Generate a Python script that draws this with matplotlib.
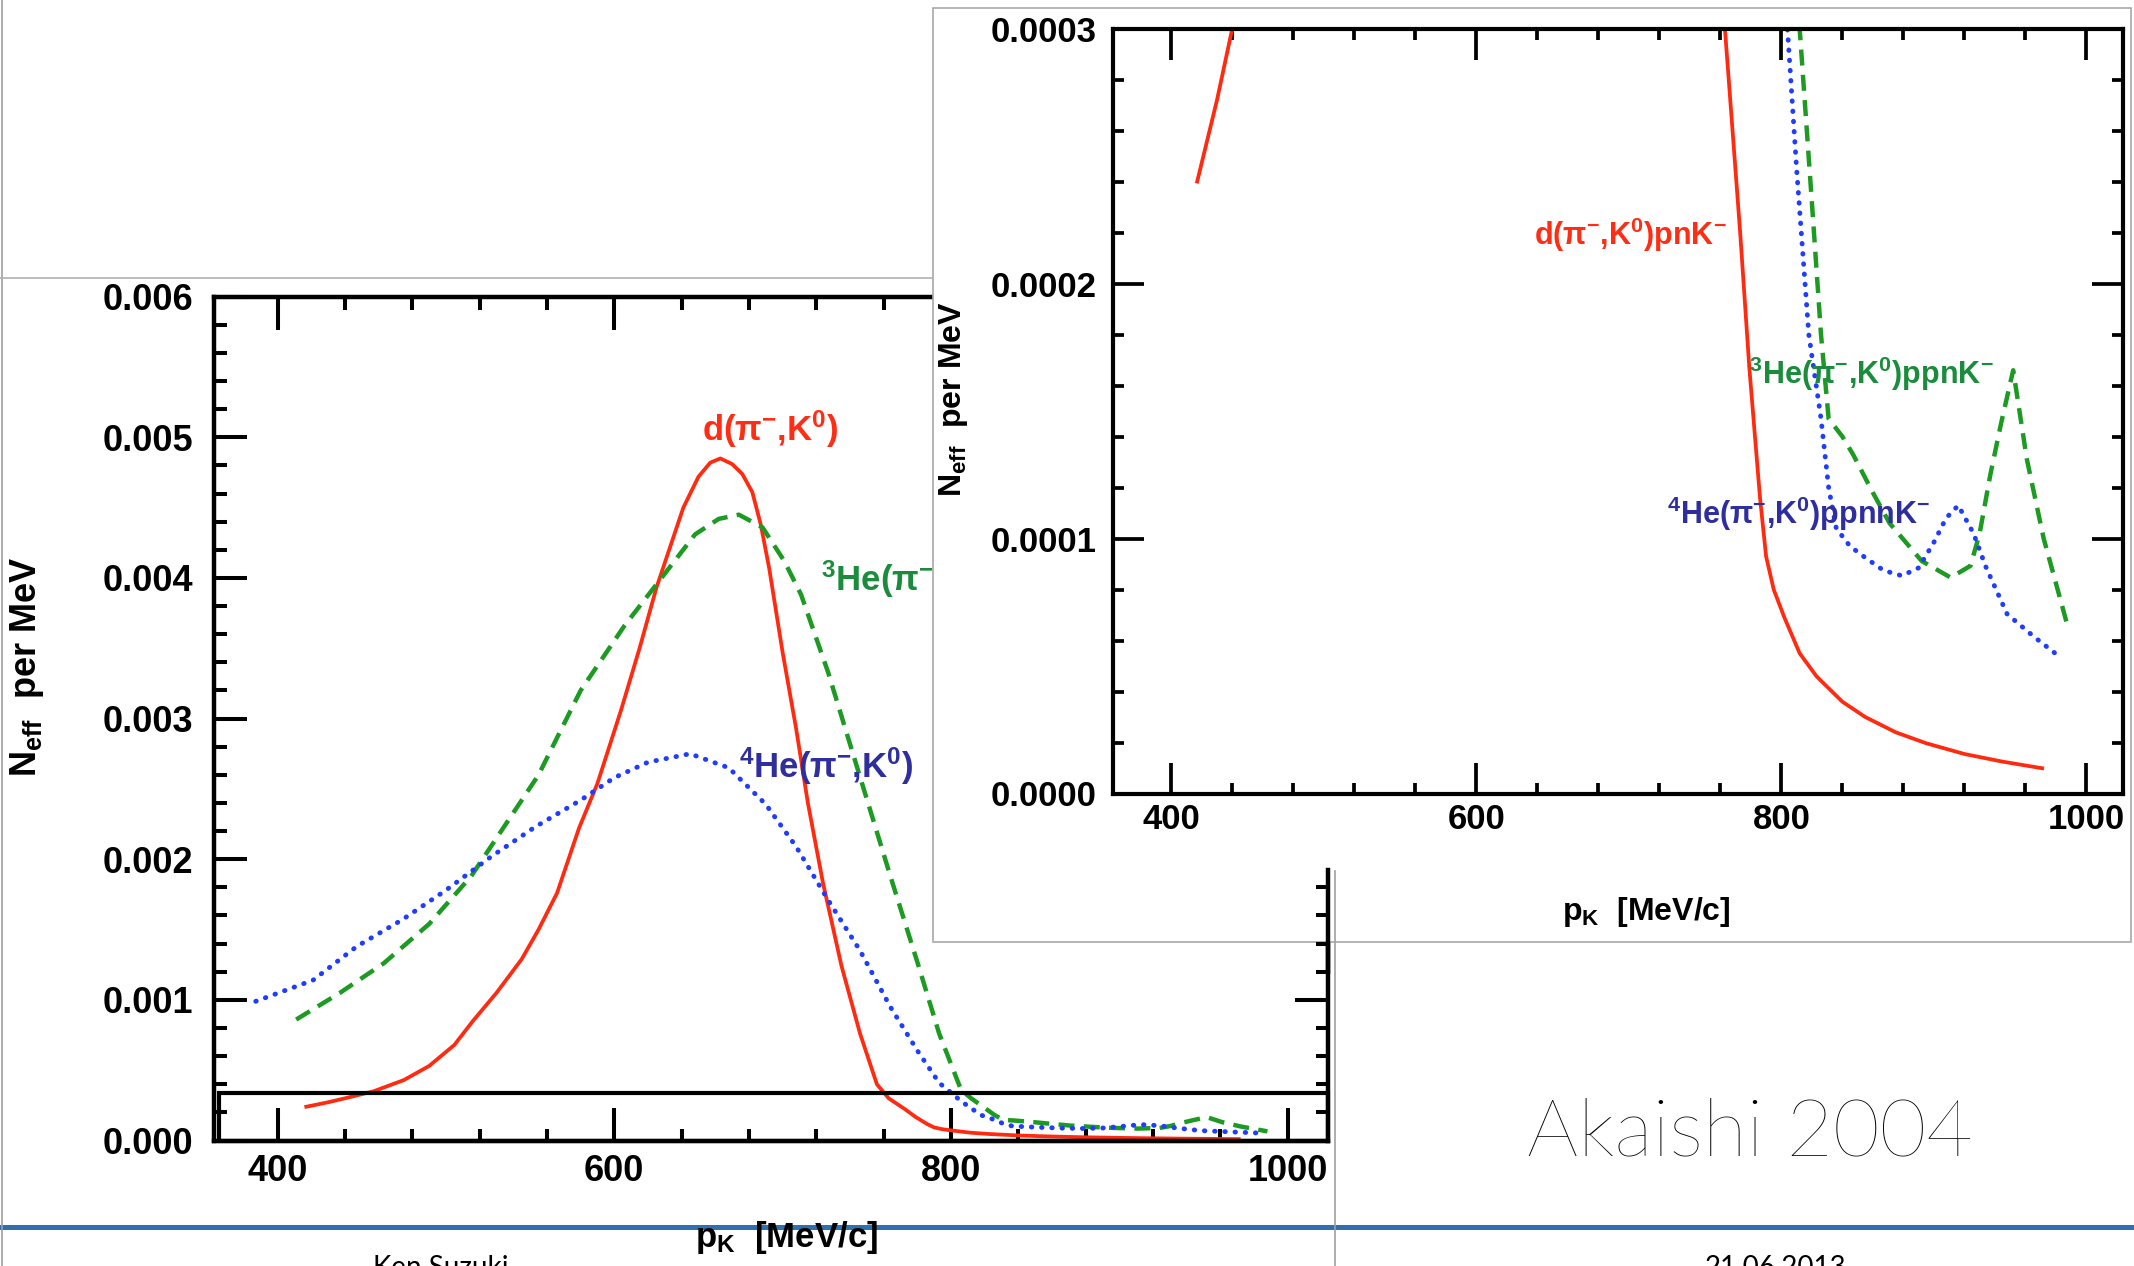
import matplotlib
matplotlib.use('Agg')
import matplotlib.pyplot as plt
from matplotlib.lines import Line2D
from matplotlib.patches import Rectangle
from matplotlib.ticker import MultipleLocator, FixedLocator, FormatStrFormatter

W, H = 2134, 1266

# kaon momentum p_K [MeV/c] vs N_eff per MeV
RED_X = [417, 430, 440, 457, 475, 490, 505, 516, 530, 545, 555, 566, 579, 590,
         604, 615, 625, 641, 650, 657, 663, 670, 676, 682, 687, 692, 700, 708,
         715, 724, 735, 746, 756, 763, 773, 779, 786, 790, 795, 802, 812, 823,
         840, 855, 875, 895, 920, 945, 971]
RED_Y = [0.00024, 0.000272, 0.0003, 0.00035, 0.00043, 0.00053, 0.00068, 0.00085,
         0.00105, 0.00129, 0.0015, 0.00176, 0.00222, 0.00254, 0.00306, 0.0035,
         0.00393, 0.0045, 0.00472, 0.00482, 0.00485, 0.00481, 0.00474, 0.00461,
         0.00438, 0.00407, 0.00347, 0.00293, 0.0024, 0.00183, 0.00124, 0.00076,
         0.0004, 0.0003, 0.00022, 0.000167, 0.000116, 0.000093, 0.00008, 0.000069,
         0.000055, 0.000046, 0.000036, 0.00003, 0.000024, 0.0000197, 0.0000155,
         0.0000125, 0.0000099]

HE3_X = [411, 437, 463, 490, 515, 545, 555, 580, 606, 628, 648, 662, 674, 688,
         701, 711, 727, 740, 752, 764, 780, 793, 806, 812, 820, 826, 831, 840,
         847, 860, 871, 892, 911, 924, 930, 937, 944, 952, 961, 972, 988]
HE3_Y = [0.00086, 0.00105, 0.00126, 0.00154, 0.00188, 0.00242, 0.0026, 0.0032,
         0.00366, 0.004, 0.00431, 0.00442, 0.00445, 0.00436, 0.00412, 0.00388,
         0.00333, 0.00282, 0.00235, 0.00188, 0.00127, 0.00076, 0.00036, 0.0003,
         0.000232, 0.00018, 0.000147, 0.00014, 0.000133, 0.000118, 0.000106,
         0.0000912, 0.0000847, 0.0000893, 0.000102, 0.000125, 0.000145, 0.000166,
         0.000131, 0.0001, 0.000065]

HE4_X = [387, 421, 447, 474, 500, 527, 553, 580, 600, 620, 645, 668, 690, 708,
         727, 746, 764, 780, 793, 804, 810, 818, 826, 831, 836, 845, 855, 867,
         879, 890, 900, 908, 916, 926, 934, 948, 966, 984]
HE4_Y = [0.00099, 0.00114, 0.00138, 0.00157, 0.00178, 0.00202, 0.00223, 0.00242,
         0.00258, 0.00269, 0.00275, 0.00265, 0.00239, 0.00209, 0.00171, 0.00135,
         0.00095, 0.00064, 0.00041, 0.0003, 0.000245, 0.00018, 0.000147, 0.00012,
         0.000104, 0.000097, 0.0000925, 0.0000875, 0.0000854, 0.0000885,
         0.0000985, 0.000108, 0.000113, 0.000102, 0.000089, 0.0000704, 0.0000613,
         0.0000529]

XLIM = (362, 1024)
ZOOM_BOX = (365, 1024, 0.0, 0.00034)

RED = '#ff2a10'
GREEN = '#1c9a22'
BLUE = '#1f3cff'
RED_TXT = '#ff2d14'
GREEN_TXT = '#1a8c3c'
BLUE_TXT = '#2e2e9e'

plt.rcParams['font.family'] = ['Liberation Sans', 'DejaVu Sans']
plt.rcParams['font.weight'] = 'bold'
plt.rcParams['mathtext.fontset'] = 'custom'
plt.rcParams['mathtext.rm'] = 'Liberation Sans:bold'
plt.rcParams['mathtext.it'] = 'Liberation Sans:bold'
plt.rcParams['mathtext.bf'] = 'Liberation Sans:bold'
plt.rcParams['mathtext.default'] = 'rm'


def fx(x):
    return x / W


def fy(y):
    return 1 - y / H


def box(left, top, right, bottom):
    return [fx(left), fy(bottom), (right - left) / W, (bottom - top) / H]


def style(a, ylim, ymaj, ymin, fmt, fs, maj, mnr, lw, xpad, ypad):
    a.set_xlim(*XLIM)
    a.set_ylim(*ylim)
    a.xaxis.set_major_locator(MultipleLocator(200))
    a.xaxis.set_minor_locator(MultipleLocator(40))
    a.yaxis.set_major_locator(MultipleLocator(ymaj))
    a.yaxis.set_minor_locator(MultipleLocator(ymin))
    a.yaxis.set_major_formatter(FormatStrFormatter(fmt))
    a.tick_params(which='both', direction='in', top=True, right=True, width=lw - 0.3)
    a.tick_params(which='major', length=maj, labelsize=fs)
    a.tick_params(which='minor', length=mnr)
    a.tick_params(axis='x', pad=xpad)
    a.tick_params(axis='y', pad=ypad)
    for s in a.spines.values():
        s.set_linewidth(lw)


def draw_curves(a):
    a.plot(RED_X, RED_Y, color=RED, lw=2.7)
    a.plot(HE3_X, HE3_Y, color=GREEN, lw=3.2, ls=(0, (3.6, 2.1)))
    a.plot(HE4_X, HE4_Y, color=BLUE, lw=3.5, ls=(0, (0.1, 2.0)),
           dash_capstyle='round')


fig = plt.figure(figsize=(W / 100, H / 100), dpi=100)

# main spectrum
ax = fig.add_axes(box(213.7, 296.7, 1328, 1140.5), zorder=1)
style(ax, (0, 0.006), 0.001, 0.0002, '%.3f', 26, 24, 9, 3.2, 10, 15)
draw_curves(ax)
ax.add_patch(Rectangle((ZOOM_BOX[0], ZOOM_BOX[2]), ZOOM_BOX[1] - ZOOM_BOX[0],
                       ZOOM_BOX[3] - ZOOM_BOX[2], fill=False, ec='black',
                       lw=3.0, clip_on=False, zorder=5))
ax.text(692.5, 0.00506, 'd(π$^{-}$,K$^{0}$)', color=RED_TXT, fontsize=25,
        ha='center', va='center', clip_on=False)
ax.text(723, 0.00399, '$^{3}$He(π$^{-}$,K$^{0}$)', color=GREEN_TXT, fontsize=25,
        ha='left', va='center', clip_on=False)
ax.text(674, 0.00266, '$^{4}$He(π$^{-}$,K$^{0}$)', color=BLUE_TXT, fontsize=25,
        ha='left', va='center', clip_on=False)

# inset picture frame
fig.add_artist(Rectangle((fx(933), fy(942)), (2131 - 933) / W, (942 - 8) / H,
                         transform=fig.transFigure, fc='white', ec='#a8a8a8',
                         lw=1.2, zorder=1.5))

# zoomed tail
axi = fig.add_axes(box(1113.3, 28.6, 2123, 793.5), zorder=2)
style(axi, (0, 0.0003), 0.0001, 0.00002, '%.4f', 25, 22, 8, 3.0, 7, 12)
draw_curves(axi)
axi.text(637.7, 0.000219, 'd(π$^{-}$,K$^{0}$)pnK$^{-}$', color=RED_TXT,
         fontsize=22, ha='left', va='center')
axi.text(778.6, 0.0001645, '$^{3}$He(π$^{-}$,K$^{0}$)ppnK$^{-}$', color=GREEN_TXT,
         fontsize=22, ha='left', va='center')
axi.text(724.9, 0.0001096, '$^{4}$He(π$^{-}$,K$^{0}$)ppnnK$^{-}$', color=BLUE_TXT,
         fontsize=22, ha='left', va='center')

# piece of the main right spine showing over the inset frame
axo = fig.add_axes(box(213.7, 296.7, 1328, 1140.5), zorder=3)
axo.patch.set_visible(False)
axo.set_xlim(*XLIM)
axo.set_ylim(0, 0.006)
for side in ('top', 'left', 'bottom'):
    axo.spines[side].set_visible(False)
axo.spines['right'].set_linewidth(3.2)
axo.spines['right'].set_bounds(0.0012, 0.00192)
axo.set_xticks([])
axo.set_yticks([])
axo.yaxis.set_minor_locator(FixedLocator([0.0014, 0.0016, 0.0018]))
axo.tick_params(axis='y', which='minor', direction='in', length=9, width=2.9,
                left=False, right=True)

# axis titles
fig.text(fx(27), fy(667), 'N$_\\mathrm{eff}$  per MeV', rotation=90,
         fontsize=26, ha='center', va='center')
fig.text(fx(787), fy(1238), 'p$_\\mathrm{K}$  [MeV/c]', fontsize=25,
         ha='center', va='center', zorder=3)
fig.text(fx(953), fy(399), 'N$_\\mathrm{eff}$  per MeV', rotation=90,
         fontsize=23, ha='center', va='center', zorder=3)
fig.text(fx(1646), fy(912), 'p$_\\mathrm{K}$  [MeV/c]', fontsize=23,
         ha='center', va='center', zorder=3)

# slide frame lines and footer
fig.add_artist(Line2D([fx(2), fx(2)], [0, 1], color='#a0a0a0', lw=1.2, zorder=0.8))
fig.add_artist(Line2D([0, fx(933)], [fy(278), fy(278)], color='#b0b0b0', lw=1.2,
                      zorder=0.8))
fig.add_artist(Line2D([fx(1335), fx(1335)], [fy(871), 0], color='#a0a0a0', lw=1.2,
                      zorder=3))
fig.add_artist(Line2D([0, 1], [fy(1227), fy(1227)], color='#2f70b0', lw=3.6,
                      zorder=0.5))

fig.text(fx(1750), fy(1155), 'Akaishi 2004', family='Lato', fontweight=100,
         fontsize=58, ha='center', va='baseline')
fig.text(fx(373), fy(1255), 'Ken Suzuki', family='Lato', fontweight='normal',
         fontsize=20, color='black', ha='left', va='top')
fig.text(fx(1705), fy(1255), '21.06.2013', family='Lato', fontweight='normal',
         fontsize=20, color='black', ha='left', va='top')

fig.savefig('out.png', dpi=100)
